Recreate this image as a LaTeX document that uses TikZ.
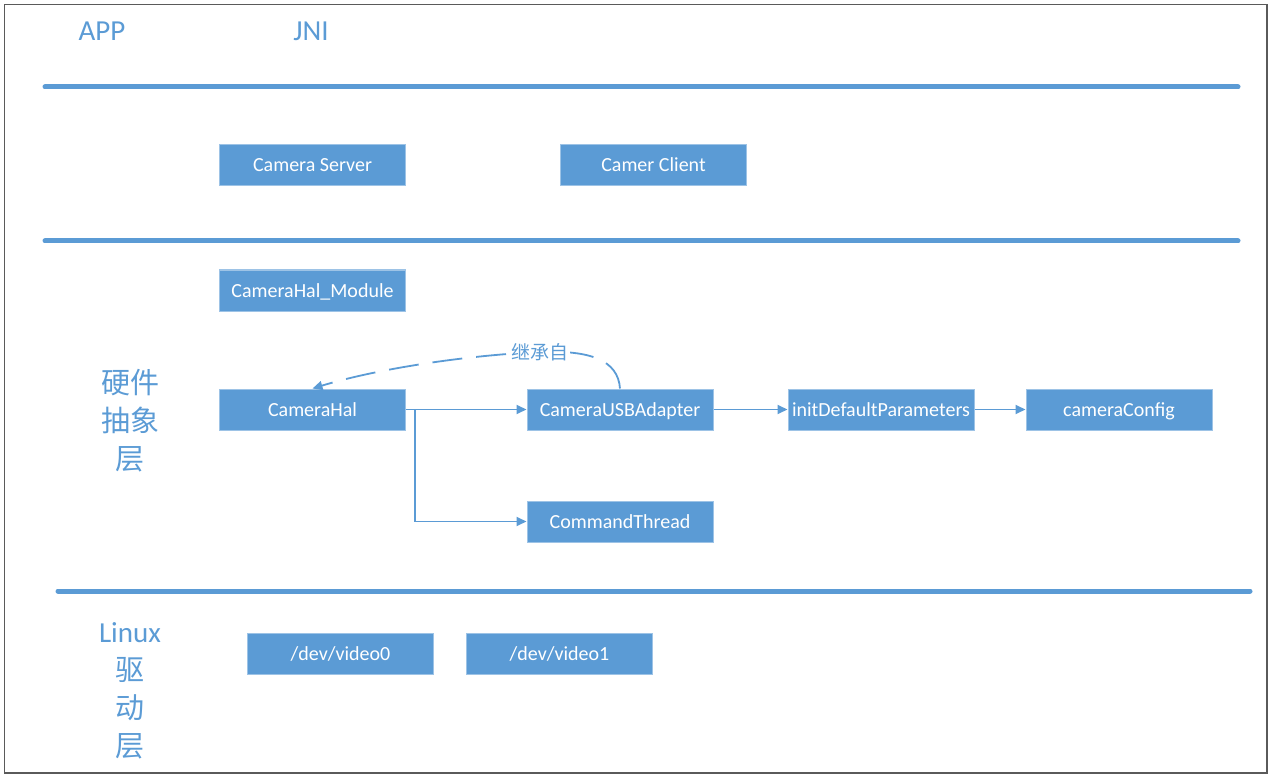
\documentclass[tikz,border=0pt]{standalone}
\usepackage{fontspec}
\setmainfont{Carlito}
\newfontfamily\cjk{Noto Sans CJK SC}
\usetikzlibrary{arrows.meta}
\definecolor{halblue}{HTML}{5B9BD5}
\definecolor{haledge}{HTML}{9DC3E6}
\definecolor{framegray}{HTML}{5A5A5A}
\tikzset{
  halbox/.style={draw=haledge, line width=1pt, fill=halblue, text=white, minimum width=186pt, minimum height=41pt, inner sep=0pt, text height=16pt, text depth=2pt, font=\fontsize{20}{23}\selectfont},
  layername/.style={text=halblue, align=center, font=\fontsize{29}{38}\selectfont},
  layerline/.style={halblue, line width=5pt, line cap=round},
  flow/.style={halblue, line width=1.8pt, -{Triangle[length=10pt,width=9pt]}},
}

\begin{document}
\begin{tikzpicture}[x=1pt,y=-1pt]
\useasboundingbox (0,0) rectangle (1272,778);
\draw[framegray, line width=1.2pt] (4.5,4.5) rectangle (1267,773);
% layer titles
\node[layername] (app) at (102,31) {APP};
\node[layername] (jni) at (311,31) {JNI};
\node[layername] (hal) at (130,421) {\cjk 硬件\\\cjk 抽象\\\cjk 层};
\node[layername] (drv) at (130,691) {Linux\\\cjk 驱\\\cjk 动\\\cjk 层};
% separators
\draw[layerline] (45,87) -- (1238,87);
\draw[layerline] (45,241) -- (1238,241);
\draw[layerline] (58,591) -- (1250,591);
% boxes
\node[halbox] (server) at (312.5,165) {Camera Server};
\node[halbox] (client) at (653.5,165) {Camer Client};
\node[halbox] (module) at (312.5,290.5) {CameraHal\_Module};
\node[halbox] (camhal) at (312.5,409.5) {CameraHal};
\node[halbox] (usb) at (620,409.5) {CameraUSBAdapter};
\node[halbox] (initdef) at (881,409.5) {initDefaultParameters};
\node[halbox] (config) at (1119,409.5) {cameraConfig};
\node[halbox] (cmd) at (620,521.5) {CommandThread};
\node[halbox] (video0) at (340.5,653.5) {/dev/video0};
\node[halbox] (video1) at (559.5,653.5) {/dev/video1};
% calls
\coordinate (split) at (415,409.5);
\draw[flow] (camhal.east) -- (usb.west);
\draw[flow] (split) |- (cmd.west);
\draw[flow] (usb.east) -- (initdef.west);
\draw[flow] (initdef.east) -- (config.west);
% inheritance
\draw[halblue, line width=1.8pt, dash pattern=on 30pt off 14pt, -{Triangle[length=10pt,width=9pt]}]
  (usb.north) .. controls (618,360) and (590,350) .. (540,352)
  node[fill=white, text=halblue, inner sep=1pt, font=\cjk\fontsize{19}{22}\selectfont] (inherit) {继承自}
  .. controls (470,355) and (380,368) .. (camhal.north);
\end{tikzpicture}
\end{document}
